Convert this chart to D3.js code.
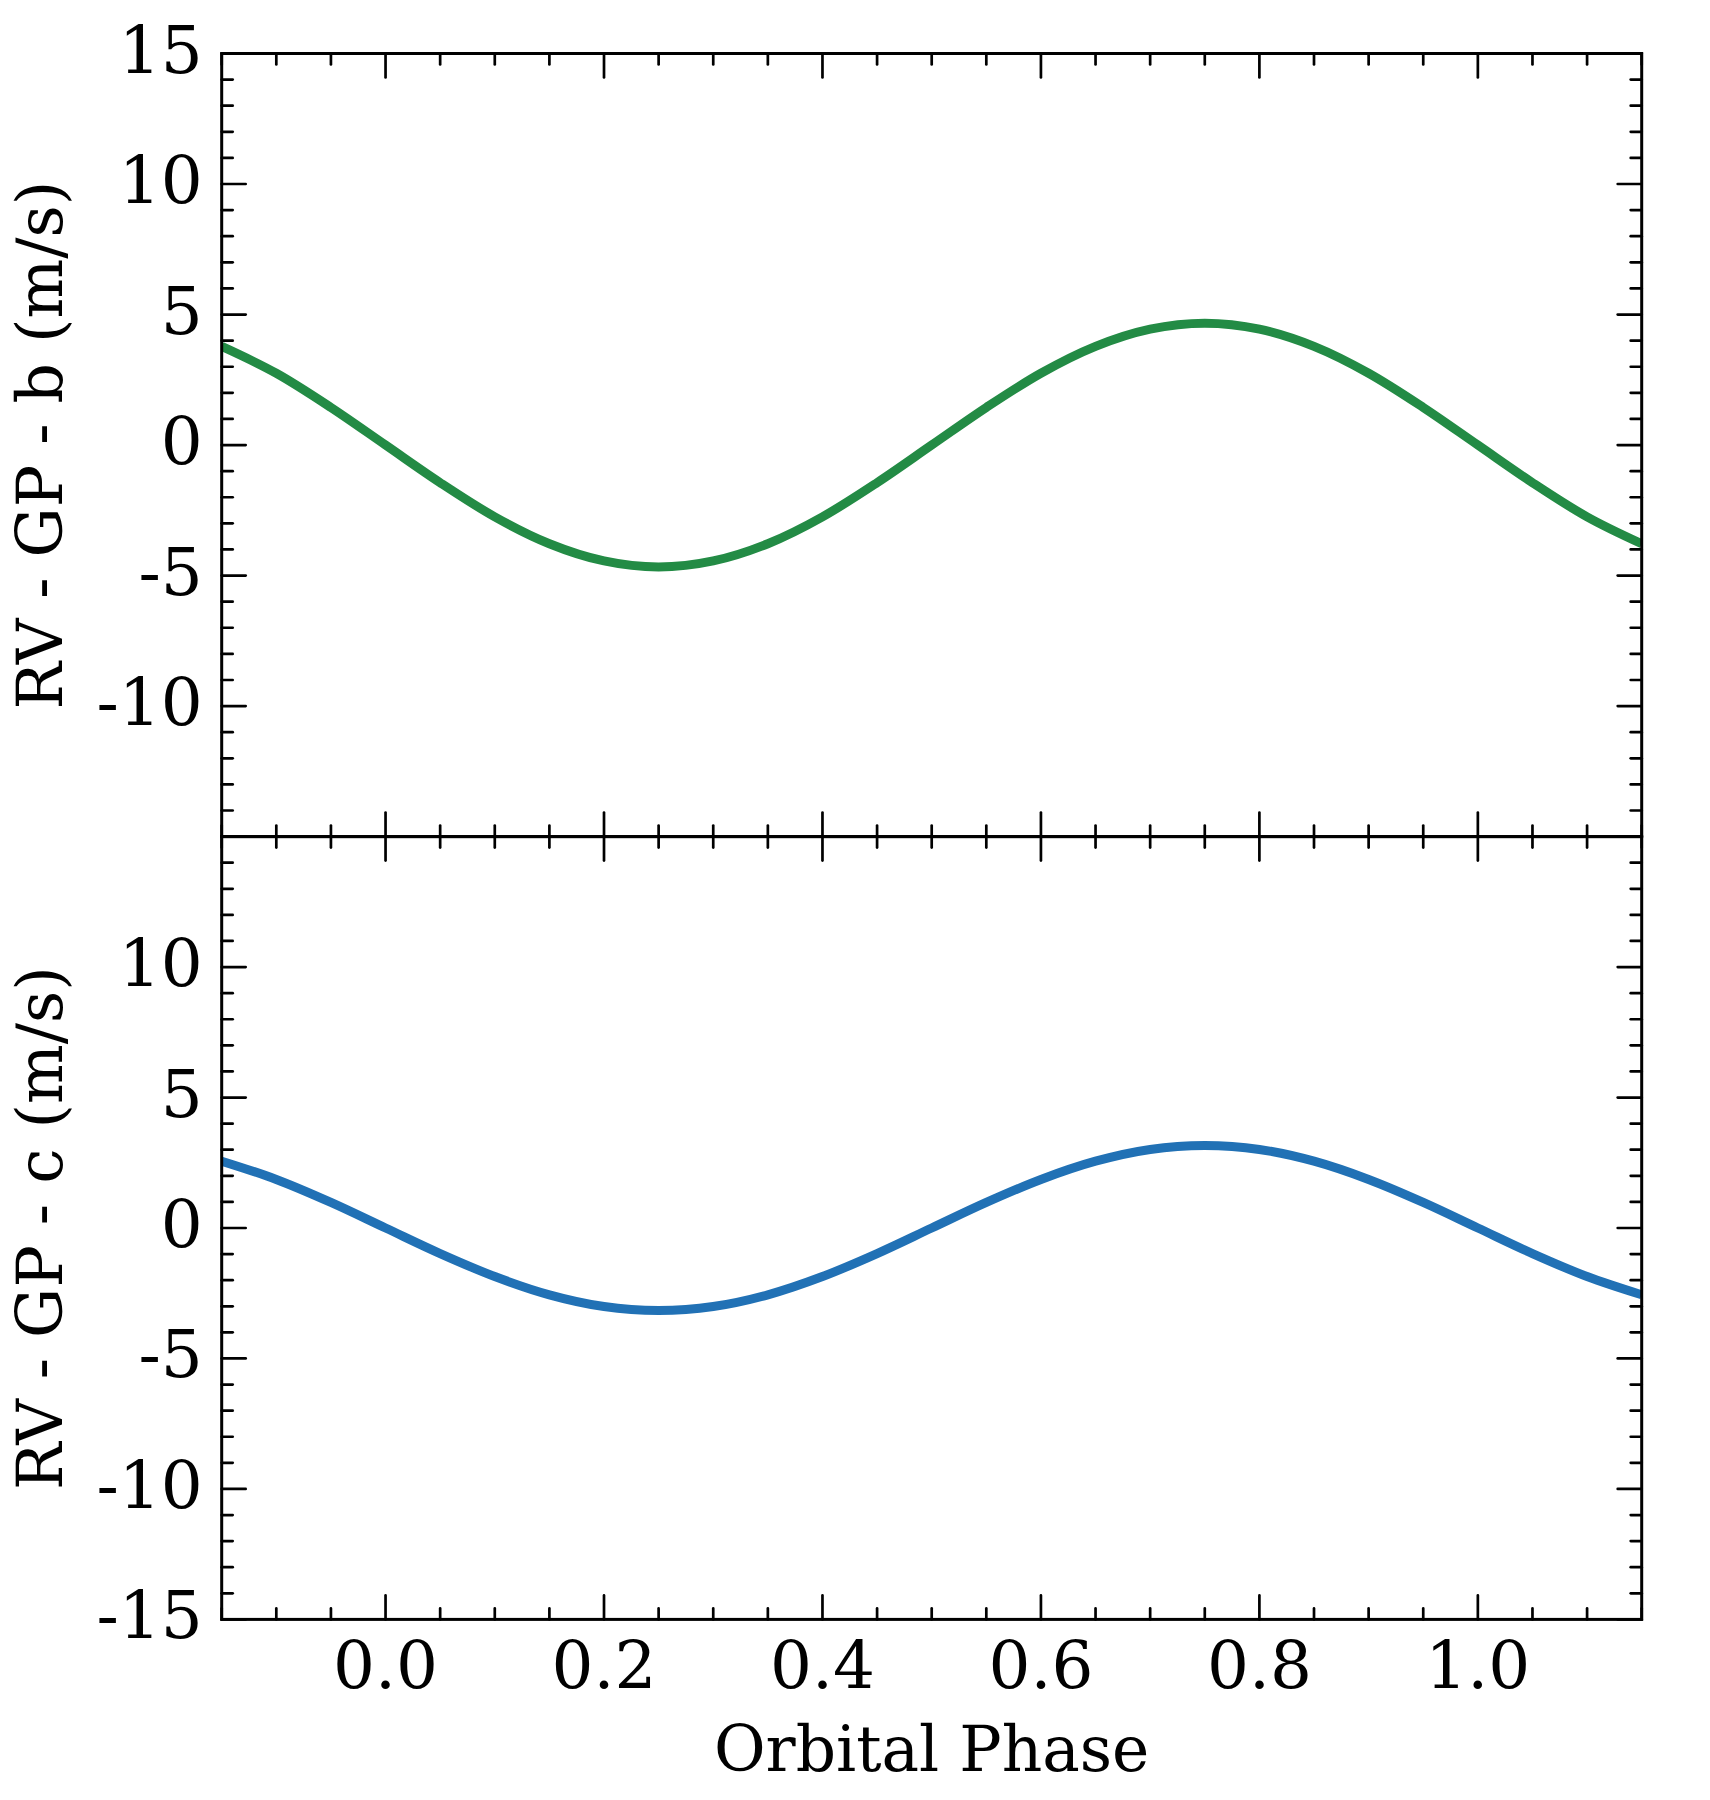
<!DOCTYPE html>
<html>
<head>
<meta charset="utf-8">
<script src="https://cdn.jsdelivr.net/npm/d3@7"></script>
<style>
  html, body { margin: 0; padding: 0; background: #fff; }
  svg { display: block; }
  text { font-family: "DejaVu Serif", serif; fill: #000; }
</style>
</head>
<body>
<svg id="chart" width="1710" height="1800"></svg>
<script>
// Orbital phase sample points
const phases = [-0.15, -0.10, -0.05, 0.00, 0.05, 0.10, 0.15, 0.20, 0.25, 0.30, 0.35, 0.40, 0.45,
                0.50, 0.55, 0.60, 0.65, 0.70, 0.75, 0.80, 0.85, 0.90, 0.95, 1.00, 1.05, 1.10, 1.15];
// Planet b residual curve (m/s)
const valuesB = [3.78, 2.75, 1.44, 0.00, -1.44, -2.75, -3.78, -4.44, -4.67, -4.44, -3.78, -2.75, -1.44,
                 0.00, 1.44, 2.75, 3.78, 4.44, 4.67, 4.44, 3.78, 2.75, 1.44, 0.00, -1.44, -2.75, -3.78];
// Planet c residual curve (m/s)
const valuesC = [2.56, 1.86, 0.98, 0.00, -0.98, -1.86, -2.56, -3.01, -3.16, -3.01, -2.56, -1.86, -0.98,
                 0.00, 0.98, 1.86, 2.56, 3.01, 3.16, 3.01, 2.56, 1.86, 0.98, 0.00, -0.98, -1.86, -2.56];
const xMajorTicks = [0.0, 0.2, 0.4, 0.6, 0.8, 1.0];
const xTickLabels = ["0.0", "0.2", "0.4", "0.6", "0.8", "1.0"];
const yTicksTop = [15, 10, 5, 0, -5, -10];
const yTicksBottom = [10, 5, 0, -5, -10, -15];
const yLabelTop = "RV - GP - b (m/s)";
const yLabelBottom = "RV - GP - c (m/s)";
const xLabel = "Orbital Phase";
const colorB = "#238b45";
const colorC = "#2171b5";

const svg = d3.select("#chart");
const left = 221.7, right = 1641.7;
const panels = [
  { top: 53.5, bottom: 836.6, values: valuesB, color: colorB, yTicks: yTicksTop, label: yLabelTop, showX: false },
  { top: 836.6, bottom: 1619.4, values: valuesC, color: colorC, yTicks: yTicksBottom, label: yLabelBottom, showX: true }
];

const x = d3.scaleLinear().domain([-0.15, 1.15]).range([left, right]);
const xMinor = d3.range(-0.15, 1.1501, 0.05).map(v => Math.round(v * 100) / 100);
const fontSize = 66;
const labelSize = 63;

panels.forEach(p => {
  const y = d3.scaleLinear().domain([-15, 15]).range([p.bottom, p.top]);
  const g = svg.append("g");

  const clipId = "clip" + Math.round(p.top);
  svg.append("clipPath").attr("id", clipId)
    .append("rect").attr("x", left).attr("y", p.top).attr("width", right - left).attr("height", p.bottom - p.top);

  const line = d3.line().x((d, i) => x(phases[i])).y(d => y(d)).curve(d3.curveMonotoneX);
  g.append("path").datum(p.values)
    .attr("clip-path", `url(#${clipId})`)
    .attr("d", line).attr("fill", "none")
    .attr("stroke", p.color).attr("stroke-width", 9).attr("stroke-linecap", "butt");

  const tickG = g.append("g").attr("stroke", "#000").attr("stroke-width", 2.7).attr("stroke-linecap", "round");
  const yMinor = d3.range(-15, 16, 1);
  const yMajor = d3.range(-15, 16, 5);
  yMinor.forEach(v => {
    if (yMajor.includes(v)) return;
    tickG.append("line").attr("x1", left).attr("x2", left + 11).attr("y1", y(v)).attr("y2", y(v));
    tickG.append("line").attr("x1", right).attr("x2", right - 11).attr("y1", y(v)).attr("y2", y(v));
  });
  yMajor.forEach(v => {
    tickG.append("line").attr("x1", left).attr("x2", left + 24).attr("y1", y(v)).attr("y2", y(v));
    tickG.append("line").attr("x1", right).attr("x2", right - 24).attr("y1", y(v)).attr("y2", y(v));
  });
  xMinor.forEach(v => {
    const isMajor = xMajorTicks.some(m => Math.abs(m - v) < 1e-6);
    const len = isMajor ? 24 : 11;
    tickG.append("line").attr("x1", x(v)).attr("x2", x(v)).attr("y1", p.bottom).attr("y2", p.bottom - len);
    tickG.append("line").attr("x1", x(v)).attr("x2", x(v)).attr("y1", p.top).attr("y2", p.top + len);
  });

  g.append("rect").attr("x", left).attr("y", p.top).attr("width", right - left).attr("height", p.bottom - p.top)
    .attr("fill", "none").attr("stroke", "#000").attr("stroke-width", 3);

  p.yTicks.forEach(v => {
    g.append("text").attr("x", left - 19).attr("y", y(v) + 19)
      .attr("text-anchor", "end").attr("font-size", fontSize).text(String(v));
  });

  const cy = (p.top + p.bottom) / 2;
  g.append("text").attr("transform", `translate(62,${cy}) rotate(-90)`)
    .attr("text-anchor", "middle").attr("font-size", labelSize).text(p.label);

  if (p.showX) {
    xMajorTicks.forEach((v, i) => {
      g.append("text").attr("x", x(v)).attr("y", p.bottom + 69)
        .attr("text-anchor", "middle").attr("font-size", fontSize).text(xTickLabels[i]);
    });
    g.append("text").attr("x", (left + right) / 2).attr("y", 1771)
      .attr("text-anchor", "middle").attr("font-size", labelSize).text(xLabel);
  }
});
</script>
</body>
</html>
